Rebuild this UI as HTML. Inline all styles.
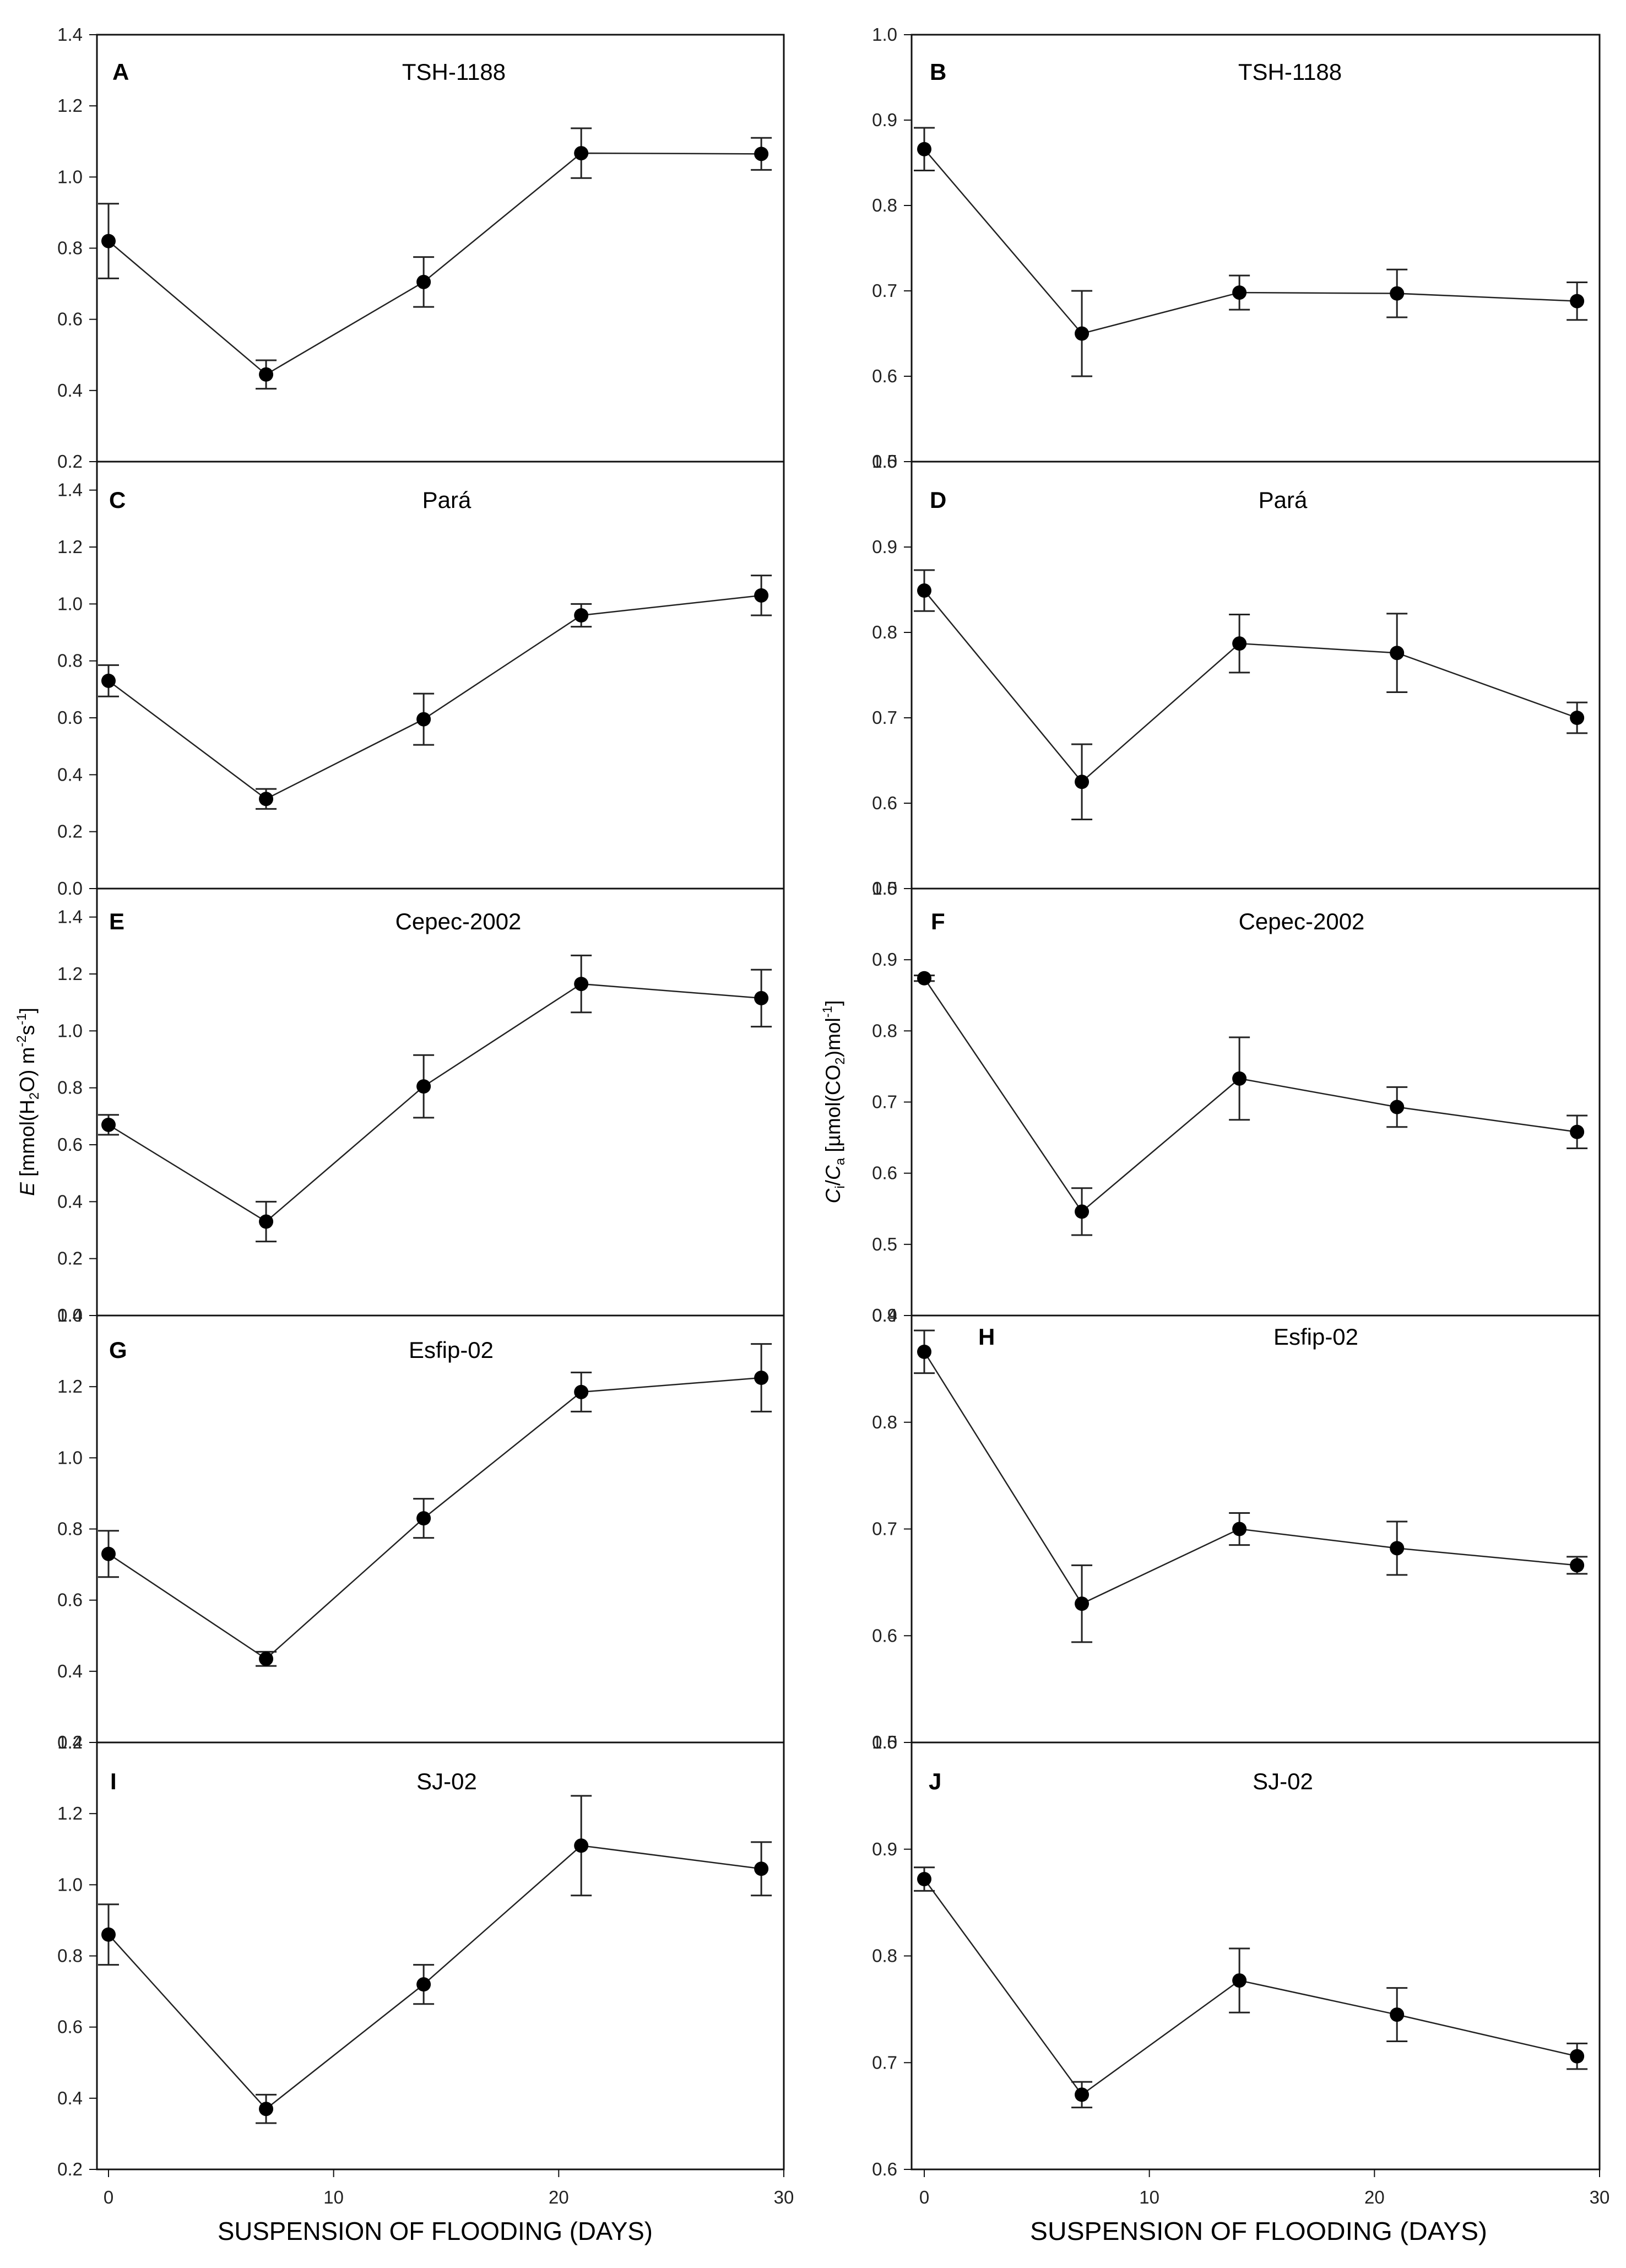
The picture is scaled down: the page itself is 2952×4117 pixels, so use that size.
<!DOCTYPE html>
<html><head><meta charset="utf-8"><style>
html,body{margin:0;padding:0;background:#fff;}
svg{display:block;font-family:"Liberation Sans",Arial,sans-serif;}
</style></head>
<body>
<svg id="fig" width="2952" height="4117" viewBox="0 0 2952 4117" xmlns="http://www.w3.org/2000/svg">
<rect width="2952" height="4117" fill="#fff"/>
<text transform="translate(62,2000) rotate(-90)" text-anchor="middle" font-size="37"><tspan font-style="italic">E</tspan> [mmol(H<tspan font-size="24" dy="8">2</tspan><tspan dy="-8">O) m</tspan><tspan font-size="24" dy="-15">-2</tspan><tspan dy="15">s</tspan><tspan font-size="24" dy="-15">-1</tspan><tspan dy="15">]</tspan></text>
<text transform="translate(1525,2000) rotate(-90)" text-anchor="middle" font-size="37"><tspan font-style="italic">C</tspan><tspan font-size="24" dy="8">i</tspan><tspan dy="-8">/</tspan><tspan font-style="italic">C</tspan><tspan font-size="24" dy="8">a</tspan><tspan dy="-8"> [µmol(CO</tspan><tspan font-size="24" dy="8">2</tspan><tspan dy="-8">)mol</tspan><tspan font-size="24" dy="-15">-1</tspan><tspan dy="15">]</tspan></text>
<text x="790" y="4066" text-anchor="middle" font-size="46" textLength="790" lengthAdjust="spacingAndGlyphs">SUSPENSION OF FLOODING (DAYS)</text>
<text x="2285" y="4066" text-anchor="middle" font-size="46" textLength="830" lengthAdjust="spacingAndGlyphs">SUSPENSION OF FLOODING (DAYS)</text>
</svg>
<script>
const days = [0, 7, 14, 21, 29];
const xTicks = [0, 10, 20, 30];
const panelLetters = ["A","B","C","D","E","F","G","H","I","J"];
const panelTitles = ["TSH-1188","TSH-1188","Pará","Pará","Cepec-2002","Cepec-2002","Esfip-02","Esfip-02","SJ-02","SJ-02"];
const valA = [0.82, 0.445, 0.705, 1.067, 1.065];
const errA = [0.105, 0.04, 0.07, 0.07, 0.045];
const valB = [0.866, 0.65, 0.698, 0.697, 0.688];
const errB = [0.025, 0.05, 0.02, 0.028, 0.022];
const valC = [0.73, 0.315, 0.595, 0.96, 1.03];
const errC = [0.055, 0.035, 0.09, 0.04, 0.07];
const valD = [0.849, 0.625, 0.787, 0.776, 0.70];
const errD = [0.024, 0.044, 0.034, 0.046, 0.018];
const valE = [0.67, 0.33, 0.805, 1.165, 1.115];
const errE = [0.035, 0.07, 0.11, 0.1, 0.1];
const valF = [0.874, 0.546, 0.733, 0.693, 0.658];
const errF = [0.004, 0.033, 0.058, 0.028, 0.023];
const valG = [0.73, 0.435, 0.83, 1.185, 1.225];
const errG = [0.065, 0.02, 0.055, 0.055, 0.095];
const valH = [0.866, 0.63, 0.70, 0.682, 0.666];
const errH = [0.02, 0.036, 0.015, 0.025, 0.008];
const valI = [0.86, 0.37, 0.72, 1.11, 1.045];
const errI = [0.085, 0.04, 0.055, 0.14, 0.075];
const valJ = [0.872, 0.67, 0.777, 0.745, 0.706];
const errJ = [0.011, 0.012, 0.03, 0.025, 0.012];
const yMins = [0.2, 0.5, 0.0, 0.5, 0.0, 0.4, 0.2, 0.5, 0.2, 0.6];
const yMaxs = [1.4, 1.0, 1.5, 1.0, 1.5, 1.0, 1.4, 0.9, 1.4, 1.0];
const yTickStart = [0.2, 0.5, 0.0, 0.5, 0.0, 0.4, 0.2, 0.5, 0.2, 0.6];
const yTickEnd = [1.4, 1.0, 1.4, 1.0, 1.4, 1.0, 1.4, 0.9, 1.4, 1.0];
const yTickStep = [0.2, 0.1, 0.2, 0.1, 0.2, 0.1, 0.2, 0.1, 0.2, 0.1];

const vals = [valA,valB,valC,valD,valE,valF,valG,valH,valI,valJ];
const errs = [errA,errB,errC,errD,errE,errF,errG,errH,errI,errJ];
const svg = document.getElementById('fig');
const NS = 'http://www.w3.org/2000/svg';
const TOP = 63, PH = 775;
const colL = {axis:176, x0:197, x30:1423, right:1423};
const colR = {axis:1655, x0:1678, x30:2904, right:2904};
const letterOff = [82,82,84,84,74,74,77,53,85,85];
const titleX = [824,2342,811,2329,832,2363,819,2389,811,2329];
const letterX = [204,1688,198,1688,198,1690,198,1776,200,1686];

function mk(tag, attrs, parent){
  const e = document.createElementNS(NS, tag);
  for (const k in attrs) e.setAttribute(k, attrs[k]);
  (parent||svg).appendChild(e);
  return e;
}

for (let p = 0; p < 10; p++) {
  const col = p % 2 === 0 ? colL : colR;
  const row = Math.floor(p / 2);
  const top = TOP + row * PH, bot = top + PH;
  const xs = d => col.x0 + (d / 30) * (col.x30 - col.x0);
  const ys = v => bot - (v - yMins[p]) / (yMaxs[p] - yMins[p]) * PH;
  const g = document.createElementNS(NS, 'g');
  
  
  svg.appendChild(g);
  const frame = mk('rect', {x:col.axis, y:top, width:col.right-col.axis, height:PH, fill:'none', stroke:'#111', 'stroke-width':3}, g);
  
  
  const n = Math.round((yTickEnd[p] - yTickStart[p]) / yTickStep[p]);
  for (let i = 0; i <= n; i++) {
    const v = yTickStart[p] + i * yTickStep[p];
    const y = ys(v);
    const t = mk('line', {x1:col.axis-14, x2:col.axis, y1:y, y2:y, stroke:'#111', 'stroke-width':2}, g);
    
    
    const lb = mk('text', {x:col.axis-26, y:y+11, 'text-anchor':'end', 'font-size':33, fill:'#222'}, g);
    lb.textContent = v.toFixed(1);
    
    
  }
  if (row === 4) {
    for (const d of xTicks) {
      const x = xs(d);
      const t = mk('line', {x1:x, x2:x, y1:bot, y2:bot+14, stroke:'#111', 'stroke-width':2}, g);
      
      
      const lb = mk('text', {x:x, y:bot+62, 'text-anchor':'middle', 'font-size':33, fill:'#222'}, g);
      lb.textContent = d;
      
      
    }
  }
  const letter = mk('text', {x:letterX[p], y:top+letterOff[p], 'font-size':42, 'font-weight':'bold'}, g);
  letter.textContent = panelLetters[p];
  
  
  const title = mk('text', {x:titleX[p], y:top+letterOff[p], 'text-anchor':'middle', 'font-size':42}, g);
  title.textContent = panelTitles[p];
  
  
  const pts = days.map((d, i) => xs(d) + ',' + ys(vals[p][i])).join(' ');
  const line = mk('polyline', {points:pts, fill:'none', stroke:'#222', 'stroke-width':2.5}, g);
  
  
  days.forEach((d, i) => {
    const x = xs(d), v = vals[p][i], e = errs[p][i];
    const y1 = ys(v + e), y2 = ys(v - e);
    const eb = mk('path', {d:`M${x},${y1}V${y2}M${x-19},${y1}H${x+19}M${x-19},${y2}H${x+19}`, stroke:'#222', 'stroke-width':3, fill:'none'}, g);
    
    
    const c = mk('circle', {cx:x, cy:ys(v), r:13, fill:'#000'}, g);
    
    
  });
}
</script>
</body></html>
